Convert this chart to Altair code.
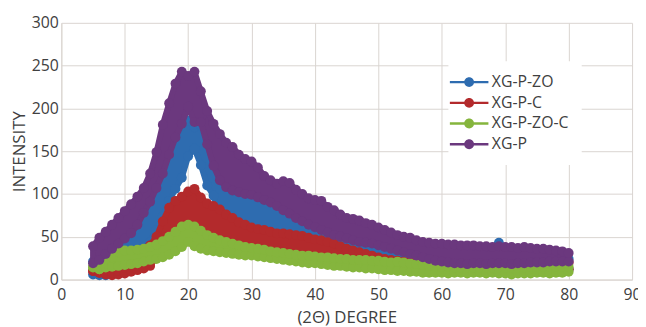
import altair as alt
import pandas as pd

# 2-theta positions (degrees)
theta = [5, 6, 7, 8, 9,
         10, 11, 12, 13, 14, 15, 16, 17, 18, 19,
         20, 21, 22, 23, 24, 25, 26, 27, 28, 29,
         30, 31, 32, 33, 34, 35, 36, 37, 38, 39,
         40, 41, 42, 43, 44, 45, 46, 47, 48, 49,
         50, 51, 52, 53, 54, 55, 56, 57, 58, 59,
         60, 61, 62, 63, 64, 65, 66, 67, 68, 69,
         70, 71, 72, 73, 74, 75, 76, 77, 78, 79,
         80]

# XG-P-ZO (lower / upper envelope of the noisy trace)
xgpzo_lo = [6, 5, 5, 6, 9,
            14, 18, 24, 32, 44, 58, 74, 92, 106, 119,
            144, 153, 134, 110, 98, 72, 66, 62, 57, 54,
            51, 49, 48, 46, 44, 44, 43, 42, 41, 39,
            37, 36, 34, 32, 29, 26, 24, 22, 20, 18,
            16, 14, 13, 12, 12, 12, 12, 12, 12, 12,
            12, 12, 12, 12, 12, 12, 12, 12, 12, 12,
            12, 12, 12, 12, 12, 12, 12, 12, 12, 12,
            12]
xgpzo_hi = [21, 25, 32, 38, 44,
            50, 56, 66, 80, 93, 109, 126, 148, 168, 180,
            186, 178, 180, 160, 135, 118, 110, 106, 104, 102,
            101, 98, 95, 92, 88, 83, 79, 74, 70, 66,
            63, 60, 57, 54, 52, 50, 48, 46, 45, 44,
            42, 40, 38, 36, 34, 32, 30, 28, 26, 26,
            25, 25, 24, 24, 24, 24, 24, 25, 28, 43,
            28, 25, 24, 24, 24, 24, 24, 24, 24, 24,
            24]

# XG-P-C
xgpc_lo = [10, 8, 6, 5, 6,
           7, 9, 11, 13, 16, 26, 28, 31, 35, 40,
           46, 41, 38, 36, 35, 34, 33, 32, 31, 30,
           30, 29, 28, 27, 26, 25, 24, 23, 22, 21,
           21, 20, 19, 18, 18, 17, 16, 16, 15, 15,
           14, 13, 13, 12, 12, 12, 12, 12, 12, 12,
           12, 12, 12, 12, 12, 12, 12, 12, 12, 12,
           12, 12, 12, 12, 12, 12, 12, 12, 12, 12,
           12]
xgpc_hi = [10, 8, 8, 8, 10,
           14, 18, 24, 32, 40, 50, 68, 84, 92, 97,
           103, 106, 96, 89, 86, 82, 76, 72, 67, 64,
           61, 59, 58, 56, 54, 54, 53, 52, 51, 49,
           47, 46, 44, 42, 39, 36, 34, 32, 30, 28,
           26, 24, 23, 22, 21, 20, 20, 20, 20, 20,
           20, 20, 20, 20, 20, 20, 20, 20, 20, 20,
           20, 20, 20, 20, 20, 20, 20, 20, 20, 20,
           20]

# XG-P-ZO-C
xgpzoc_lo = [14, 12, 14, 15, 16,
             17, 18, 19, 21, 23, 24, 26, 29, 33, 38,
             44, 39, 36, 34, 33, 32, 31, 30, 29, 28,
             28, 27, 26, 25, 24, 23, 22, 21, 20, 19,
             19, 18, 17, 16, 16, 15, 14, 14, 13, 13,
             12, 11, 11, 10, 10, 9, 9, 8, 8, 8,
             8, 7, 8, 8, 7, 8, 8, 7, 8, 7,
             7, 6, 7, 7, 7, 8, 8, 7, 8, 8,
             9]
xgpzoc_hi = [15, 12, 19, 26, 32,
             34, 34, 35, 36, 38, 41, 45, 50, 56, 62,
             64, 62, 57, 52, 49, 46, 44, 42, 40, 38,
             37, 36, 35, 33, 32, 31, 30, 29, 28, 28,
             27, 26, 26, 25, 24, 24, 23, 23, 23, 22,
             22, 21, 20, 21, 20, 19, 18, 17, 16, 15,
             15, 15, 14, 14, 14, 14, 14, 14, 14, 14,
             14, 14, 14, 14, 15, 15, 15, 15, 15, 15,
             15]

# XG-P
xgp_lo = [19, 23, 30, 36, 42,
          48, 54, 64, 78, 91, 107, 124, 146, 166, 182,
          202, 184, 184, 158, 133, 116, 108, 104, 102, 100,
          99, 96, 93, 90, 86, 81, 77, 72, 68, 64,
          61, 58, 55, 52, 50, 48, 46, 44, 43, 42,
          40, 38, 36, 34, 32, 30, 28, 26, 24, 22,
          21, 20, 19, 19, 18, 19, 19, 18, 19, 19,
          19, 18, 19, 19, 20, 20, 20, 21, 21, 21,
          21]
xgp_hi = [39, 49, 56, 64, 72,
          80, 88, 97, 107, 124, 149, 181, 206, 229, 243,
          238, 243, 220, 197, 182, 170, 160, 155, 146, 141,
          138, 131, 121, 116, 112, 115, 113, 105, 100, 95,
          93, 92, 85, 81, 76, 72, 71, 69, 66, 64,
          61, 58, 55, 52, 50, 49, 46, 44, 43, 42,
          42, 41, 41, 40, 40, 40, 39, 39, 38, 39,
          38, 38, 37, 38, 37, 36, 36, 35, 34, 33,
          31]

series_names = ["XG-P-ZO", "XG-P-C", "XG-P-ZO-C", "XG-P"]
series_colors = ["#2E6CB0", "#B32A2C", "#85B53D", "#6B387E"]
lows = [xgpzo_lo, xgpc_lo, xgpzoc_lo, xgp_lo]
highs = [xgpzo_hi, xgpc_hi, xgpzoc_hi, xgp_hi]

x_ticks = [0, 10, 20, 30, 40, 50, 60, 70, 80, 90]
y_ticks = [0, 50, 100, 150, 200, 250, 300]

rows = []
for name, lo, hi in zip(series_names, lows, highs):
    for t, a, b in zip(theta, lo, hi):
        rows.append({"theta": t, "series": name, "lo": a, "hi": b})
df = pd.DataFrame(rows)

cscale = alt.Scale(domain=series_names, range=series_colors)
xscale = alt.Scale(domain=[0, 90], nice=False)
yscale = alt.Scale(domain=[0, 300], nice=False)

x_axis = alt.Axis(values=x_ticks, title="(2Θ) DEGREE", labelPadding=7, titlePadding=7, labelFlush=False)
y_axis = alt.Axis(values=y_ticks, title="INTENSITY", labelPadding=3, titlePadding=3, labelFlush=False)

legend_symbol = ("M-2.44,-0.15L-0.6,-0.15L-0.6,0.15L-2.44,0.15Z"
                 "M0.6,-0.15L2.44,-0.15L2.44,0.15L0.6,0.15Z"
                 "M-0.625,0A0.625,0.625,0,1,1,0.625,0A0.625,0.625,0,1,1,-0.625,0Z")

leg = alt.Legend(title=None, orient="none", legendX=392, legendY=39,
                 symbolType=legend_symbol, symbolSize=256, symbolStrokeWidth=0,
                 symbolOpacity=1, labelOffset=15, rowPadding=5, padding=13,
                 fillColor="white", labelFont="Open Sans", labelFontSize=16,
                 labelColor="#404040")

layers = []
for name in series_names:
    base = alt.Chart(df).transform_filter(alt.datum.series == name)
    area = base.mark_area(opacity=1, strokeWidth=6, strokeJoin="round", strokeCap="round").encode(
        x=alt.X("theta:Q", scale=xscale, axis=x_axis),
        y=alt.Y("lo:Q", scale=yscale, axis=y_axis),
        y2="hi:Q",
        color=alt.Color("series:N", scale=cscale, legend=leg),
        stroke=alt.Stroke("series:N", scale=cscale, legend=None),
    )
    pts = base.transform_fold(["lo", "hi"], as_=["edge", "val"]).mark_circle(size=100, opacity=1).encode(
        x=alt.X("theta:Q", scale=xscale, axis=x_axis),
        y=alt.Y("val:Q", scale=yscale, axis=y_axis),
        color=alt.Color("series:N", scale=cscale, legend=leg),
    )
    layers += [area, pts]

chart = alt.layer(*layers).properties(
    width=578, height=260,
    autosize=alt.AutoSizeParams(type="none"),
    padding={"left": 54, "top": 13, "right": 6, "bottom": 46},
).configure_view(stroke=None).configure_axis(
    labelFont="Open Sans", labelFontSize=16, labelColor="#404040",
    titleFont="Open Sans", titleFontSize=17, titleFontWeight="normal", titleColor="#404040",
    gridColor="#D9D4D0", gridWidth=1, domainColor="#D9D4D0", ticks=False,
)

chart.save("out.html", embed_options={"renderer": "svg", "actions": False})
